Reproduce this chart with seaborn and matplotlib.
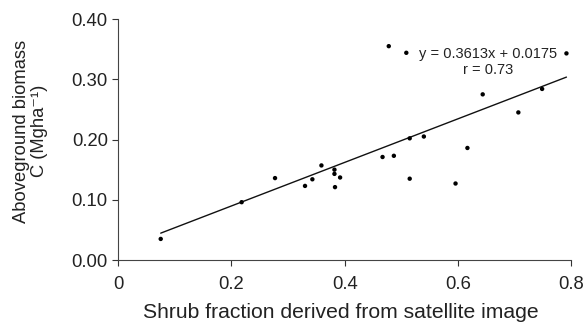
import numpy as np
import pandas as pd
import matplotlib
matplotlib.use("Agg")
import matplotlib.pyplot as plt
import seaborn as sns

# valores
shrub = [0.075, 0.218, 0.277, 0.330, 0.343, 0.359, 0.382, 0.382, 0.383, 0.392,
         0.467, 0.478, 0.487, 0.509, 0.515, 0.515, 0.540, 0.596, 0.617, 0.644,
         0.707, 0.749, 0.792]
biomasa = [0.035, 0.096, 0.136, 0.123, 0.134, 0.157, 0.150, 0.143, 0.121, 0.137,
           0.171, 0.355, 0.173, 0.344, 0.202, 0.135, 0.205, 0.127, 0.186, 0.275,
           0.245, 0.284, 0.343]
pendiente = 0.3613
intercepto = 0.0175
x_ticks = [0, 0.2, 0.4, 0.6, 0.8]
x_labels = ["0", "0.2", "0.4", "0.6", "0.8"]
y_ticks = [0.0, 0.1, 0.2, 0.3, 0.4]
y_labels = ["0.00", "0.10", "0.20", "0.30", "0.40"]

sns.set_style("ticks")
plt.rcParams['font.family'] = ['Liberation Sans', 'DejaVu Sans']

bd = pd.DataFrame({'shrub': shrub, 'biomasa': biomasa})

fig, ax = plt.subplots(figsize=(5.87, 3.23), dpi=100)
fig.subplots_adjust(left=0.2015, right=0.9727, bottom=0.195, top=0.941)

sns.scatterplot(x='shrub', y='biomasa', data=bd, color='black', s=10,
                edgecolor='none', ax=ax, zorder=3)

xl = np.array([min(shrub), max(shrub)])
ax.plot(xl, pendiente * xl + intercepto, color='#111111', lw=1)

ax.text(0.653, 0.3355, 'y = 0.3613x + 0.0175', ha='center', va='baseline',
        fontsize=10.5, color='#222222')
ax.text(0.653, 0.308, 'r = 0.73', ha='center', va='baseline',
        fontsize=10.5, color='#222222')

ax.set_xlim(0, 0.8)
ax.set_ylim(0, 0.4)
ax.set_xticks(x_ticks)
ax.set_xticklabels(x_labels)
ax.set_yticks(y_ticks)
ax.set_yticklabels(y_labels)
ax.tick_params(direction='out', length=4, width=0.8, labelsize=13.3,
               colors='#333333', labelcolor='#222222')
ax.tick_params(axis='x', pad=7.5)
ax.tick_params(axis='y', pad=3.5)
for s in ax.spines.values():
    s.set_color('#444444')
    s.set_linewidth(0.8)
sns.despine(ax=ax, right=True, top=True)

ax.set_xlabel('Shrub fraction derived from satellite image', fontsize=15.2,
              color='#222222')
ax.set_ylabel('Aboveground biomass\nC (Mgha\u207b\u00b9)', fontsize=13.2,
              linespacing=1.1, color='#222222')
ax.xaxis.set_label_coords(0.492, -0.18)
ax.yaxis.set_label_coords(-0.155, 0.535)

plt.savefig('out.png', dpi=100)
